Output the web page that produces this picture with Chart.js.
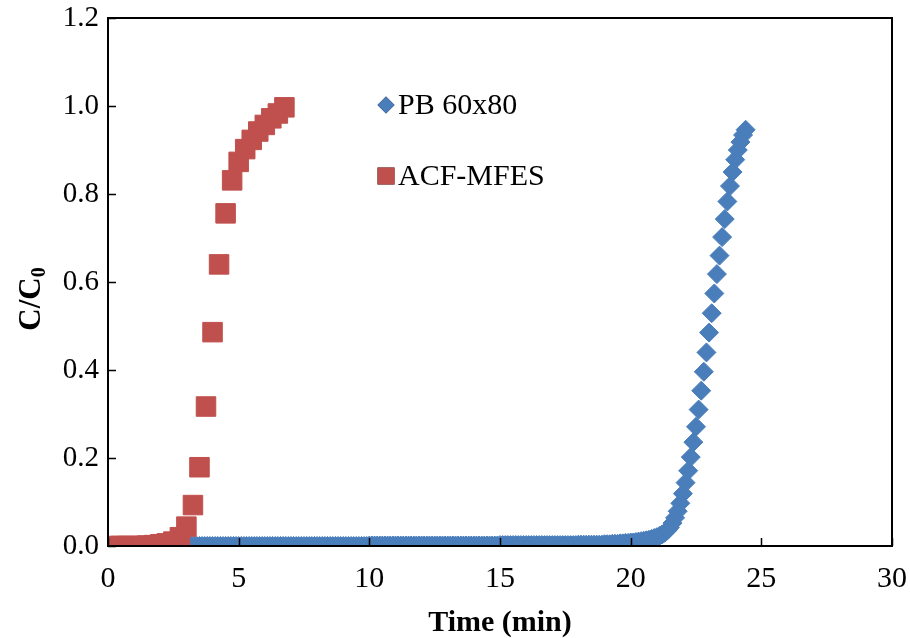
<!DOCTYPE html>
<html>
<head>
<meta charset="utf-8">
<title>Breakthrough curves</title>
<script src="https://cdn.jsdelivr.net/npm/chart.js@4.4.1/dist/chart.umd.min.js"></script>
<style>
  html, body { margin: 0; padding: 0; background: #fff; }
  #wrap { width: 910px; height: 638px; }
</style>
</head>
<body>
<div id="wrap"><canvas id="breakthroughCanvas" width="910" height="638"></canvas></div>
<script>
// ============================================================
// Breakthrough curves C/C0 vs time, PB 60x80 and ACF-MFES
// ============================================================

// ---- data ----
const pbLabel = 'PB 60x80';
const acfLabel = 'ACF-MFES';

const pbTime = [
  0, 0.1, 0.2, 0.3, 0.4, 0.5, 0.6, 0.7, 0.8, 0.9,
  1, 1.1, 1.2, 1.3, 1.4, 1.5, 1.6, 1.7, 1.8, 1.9,
  2, 2.1, 2.2, 2.3, 2.4, 2.5, 2.6, 2.7, 2.8, 2.9,
  3, 3.1, 3.2, 3.3, 3.4, 3.5, 3.6, 3.7, 3.8, 3.9,
  4, 4.1, 4.2, 4.3, 4.4, 4.5, 4.6, 4.7, 4.8, 4.9,
  5, 5.1, 5.2, 5.3, 5.4, 5.5, 5.6, 5.7, 5.8, 5.9,
  6, 6.1, 6.2, 6.3, 6.4, 6.5, 6.6, 6.7, 6.8, 6.9,
  7, 7.1, 7.2, 7.3, 7.4, 7.5, 7.6, 7.7, 7.8, 7.9,
  8, 8.1, 8.2, 8.3, 8.4, 8.5, 8.6, 8.7, 8.8, 8.9,
  9, 9.1, 9.2, 9.3, 9.4, 9.5, 9.6, 9.7, 9.8, 9.9,
  10, 10.1, 10.2, 10.3, 10.4, 10.5, 10.6, 10.7, 10.8, 10.9,
  11, 11.1, 11.2, 11.3, 11.4, 11.5, 11.6, 11.7, 11.8, 11.9,
  12, 12.1, 12.2, 12.3, 12.4, 12.5, 12.6, 12.7, 12.8, 12.9,
  13, 13.1, 13.2, 13.3, 13.4, 13.5, 13.6, 13.7, 13.8, 13.9,
  14, 14.1, 14.2, 14.3, 14.4, 14.5, 14.6, 14.7, 14.8, 14.9,
  15, 15.1, 15.2, 15.3, 15.4, 15.5, 15.6, 15.7, 15.8, 15.9,
  16, 16.1, 16.2, 16.3, 16.4, 16.5, 16.6, 16.7, 16.8, 16.9,
  17, 17.1, 17.2, 17.3, 17.4, 17.5, 17.6, 17.7, 17.8, 17.9,
  18, 18.1, 18.2, 18.3, 18.4, 18.5, 18.6, 18.7, 18.8, 18.9,
  19, 19.1, 19.2, 19.3, 19.4, 19.5, 19.6, 19.7, 19.8, 19.9,
  20, 20.1, 20.2, 20.3, 20.4, 20.5, 20.6, 20.7, 20.8, 20.9,
  21, 21.1, 21.2, 21.3, 21.4, 21.5, 21.6, 21.7, 21.8, 21.9,
  22, 22.1, 22.2, 22.3, 22.4, 22.5, 22.6, 22.7, 22.8, 22.9,
  23, 23.1, 23.2, 23.3, 23.4, 23.5, 23.6, 23.7, 23.8, 23.9,
  24, 24.1, 24.2, 24.3, 24.4
];
const pbRatio = [
  0, 0, 0, 0, 0, 0, 0, 0, 0, 0,
  0, 0, 0, 0, 0, 0, 0, 0, 0, 0,
  0, 0, 0, 0, 0, 0, 0, 0, 0, 0,
  0, 0, 0, 0, 0, 0, 0, 0, 0, 0,
  0, 0, 0, 0, 0, 0, 0, 0, 0, 0,
  0, 0, 0, 0, 0, 0, 0, 0, 0, 0,
  0, 0, 0, 0, 0, 0, 0, 0, 0, 0,
  0, 0, 0, 0, 0, 0, 0, 0, 0, 0,
  0, 0, 0, 0, 0, 0, 0, 0, 0, 0,
  0, 0, 0, 0, 0, 0, 0, 0, 0, 0,
  0.001, 0.001, 0.001, 0.001, 0.001, 0.001, 0.001, 0.001, 0.001, 0.001,
  0.001, 0.001, 0.001, 0.001, 0.001, 0.001, 0.001, 0.001, 0.001, 0.001,
  0.001, 0.001, 0.001, 0.001, 0.001, 0.001, 0.001, 0.001, 0.001, 0.001,
  0.001, 0.001, 0.001, 0.001, 0.001, 0.001, 0.001, 0.001, 0.001, 0.001,
  0.001, 0.001, 0.001, 0.001, 0.001, 0.001, 0.001, 0.001, 0.001, 0.001,
  0.002, 0.002, 0.002, 0.002, 0.002, 0.002, 0.002, 0.002, 0.002, 0.002,
  0.002, 0.002, 0.002, 0.002, 0.002, 0.002, 0.002, 0.002, 0.002, 0.002,
  0.002, 0.002, 0.002, 0.002, 0.002, 0.002, 0.002, 0.002, 0.002, 0.002,
  0.003, 0.003, 0.003, 0.003, 0.003, 0.003, 0.003, 0.003, 0.003, 0.003,
  0.004, 0.004, 0.004, 0.005, 0.005, 0.005, 0.006, 0.006, 0.007, 0.007,
  0.008, 0.008, 0.009, 0.010, 0.011, 0.012, 0.013, 0.014, 0.016, 0.018,
  0.020, 0.023, 0.026, 0.030, 0.035, 0.042, 0.052, 0.064, 0.079, 0.097,
  0.119, 0.144, 0.171, 0.202, 0.236, 0.271, 0.310, 0.353, 0.396, 0.440,
  0.485, 0.529, 0.574, 0.618, 0.660, 0.702, 0.743, 0.783, 0.818, 0.850,
  0.878, 0.900, 0.918, 0.934, 0.946
];

const acfTime = [
  0.25, 0.5, 0.75, 1, 1.25, 1.5, 1.75, 2, 2.25, 2.5,
  2.75, 3, 3.25, 3.5, 3.75, 4, 4.25, 4.5, 4.75, 5,
  5.25, 5.5, 5.75, 6, 6.25, 6.5, 6.75
];
const acfRatio = [
  0, 0, 0, 0, 0, 0.001, 0.002, 0.004, 0.006, 0.010,
  0.020, 0.044, 0.093, 0.179, 0.317, 0.486, 0.640, 0.756, 0.831, 0.873,
  0.902, 0.923, 0.942, 0.957, 0.972, 0.983, 0.997
];

const xTicks = [0, 5, 10, 15, 20, 25, 30];
const yTicks = [0, 0.2, 0.4, 0.6, 0.8, 1.0, 1.2];

// ---- look ----
const PB_COLOR  = '#4a7ebb';
const ACF_COLOR = '#c0504d';
const FONT = "'Liberation Serif', 'Times New Roman', serif";

function toPoints(xs, ys) {
  return xs.map((x, i) => ({ x: x, y: ys[i] }));
}

// frame, inside tick marks, axis titles and the in-plot legend
const decorPlugin = {
  id: 'decor',
  afterDraw(chart) {
    const { ctx, chartArea: a, scales } = chart;
    ctx.save();

    // tick marks pointing inward
    ctx.strokeStyle = '#000';
    ctx.lineWidth = 1.5;
    ctx.beginPath();
    yTicks.forEach(v => {
      const py = Math.round(scales.y.getPixelForValue(v)) + 0.5;
      ctx.moveTo(a.left, py);
      ctx.lineTo(a.left + 8, py);
    });
    xTicks.forEach(v => {
      const px = Math.round(scales.x.getPixelForValue(v)) + 0.5;
      ctx.moveTo(px, a.bottom);
      ctx.lineTo(px, a.bottom - 8);
    });
    ctx.stroke();

    // box
    ctx.lineWidth = 2;
    ctx.strokeRect(a.left, a.top, a.right - a.left, a.bottom - a.top);

    // x title
    ctx.fillStyle = '#000';
    ctx.font = 'bold 30px ' + FONT;
    ctx.textAlign = 'center';
    ctx.textBaseline = 'middle';
    ctx.fillText('Time (min)', (a.left + a.right) / 2, 623);

    // y title with subscript
    ctx.translate(29, 299);
    ctx.rotate(-Math.PI / 2);
    ctx.textAlign = 'left';
    ctx.textBaseline = 'alphabetic';
    const main = 'C/C';
    ctx.font = 'bold 31px ' + FONT;
    const wMain = ctx.measureText(main).width;
    ctx.font = 'bold 20px ' + FONT;
    const wSub = ctx.measureText('0').width;
    const x0 = -(wMain + wSub) / 2;
    ctx.font = 'bold 31px ' + FONT;
    ctx.fillText(main, x0, 11);
    ctx.font = 'bold 20px ' + FONT;
    ctx.fillText('0', x0 + wMain, 16);
    ctx.setTransform(1, 0, 0, 1, 0, 0);

    // legend
    const items = [
      { ds: chart.data.datasets[0], y: 105 },
      { ds: chart.data.datasets[1], y: 176 }
    ];
    ctx.font = '30px ' + FONT;
    ctx.textAlign = 'left';
    ctx.textBaseline = 'middle';
    items.forEach(it => {
      const style = it.ds.pointStyle;
      Chart.helpers.drawPoint(ctx, {
        pointStyle: style,
        radius: style === 'rect' ? 12 : 8.5,
        borderWidth: 0,
        rotation: 0
      }, 386, it.y);
      ctx.fillStyle = it.ds.backgroundColor;
      ctx.fill();
      ctx.fillStyle = '#000';
      ctx.fillText(it.ds.label, 398, it.y + 1);
    });

    ctx.restore();
  }
};

const chart = new Chart(document.getElementById('breakthroughCanvas'), {
  type: 'scatter',
  data: {
    datasets: [
      {
        label: pbLabel,
        data: toPoints(pbTime, pbRatio),
        pointStyle: 'rectRot',
        pointRadius: 9.5,
        backgroundColor: PB_COLOR,
        borderColor: PB_COLOR,
        borderWidth: 1,
        order: 1
      },
      {
        label: acfLabel,
        data: toPoints(acfTime, acfRatio),
        pointStyle: 'rect',
        pointRadius: 13.8,
        backgroundColor: ACF_COLOR,
        borderColor: ACF_COLOR,
        borderWidth: 1,
        order: 0
      }
    ]
  },
  options: {
    responsive: false,
    animation: false,
    devicePixelRatio: 1,
    layout: { padding: { top: 18, right: 18, left: 0, bottom: 0 } },
    plugins: {
      legend: { display: false },
      tooltip: { enabled: false }
    },
    scales: {
      x: {
        type: 'linear',
        min: 0,
        max: 30,
        grid: { display: false, drawTicks: false },
        border: { display: false },
        afterFit(scale) {
          scale.height = 92;
          scale.paddingLeft = 0;
          scale.paddingRight = 0;
        },
        afterBuildTicks(scale) { scale.ticks = xTicks.map(v => ({ value: v })); },
        ticks: {
          padding: 15,
          color: '#000',
          font: { family: FONT, size: 30 },
          maxRotation: 0,
          callback: v => String(v)
        }
      },
      y: {
        type: 'linear',
        min: 0,
        max: 1.2,
        grid: { display: false, drawTicks: false },
        border: { display: false },
        afterFit(scale) {
          scale.width = 108;
          scale.paddingTop = 0;
          scale.paddingBottom = 0;
        },
        afterBuildTicks(scale) { scale.ticks = yTicks.map(v => ({ value: v })); },
        ticks: {
          padding: 9,
          color: '#000',
          font: { family: FONT, size: 29 },
          callback: v => Number(v).toFixed(1)
        }
      }
    }
  },
  plugins: [decorPlugin]
});
</script>
</body>
</html>
